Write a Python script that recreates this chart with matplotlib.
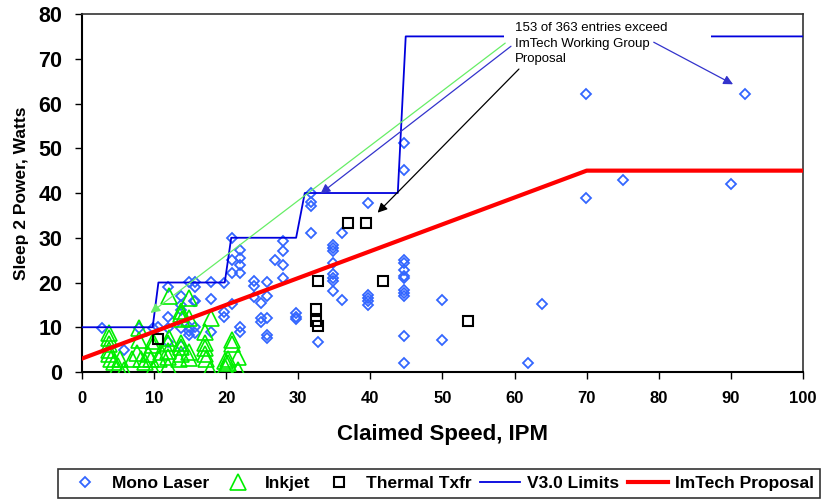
import numpy as np
import matplotlib.pyplot as plt
from matplotlib.patches import Rectangle

plt.rcParams['font.family'] = ['Liberation Sans', 'DejaVu Sans']

# Mono Laser (claimed IPM, sleep 2 watts)
mono_x = [2.8, 5.8, 7.9, 9.8, 10.5,
          11.9, 11.9, 11.9, 11.9,
          13.8, 13.8, 13.8, 13.8, 13.8,
          14.8, 14.8, 14.8, 14.8,
          15.7, 15.7, 15.7, 15.7, 15.7, 15.5,
          17.9, 17.9, 17.9,
          19.7, 19.7, 19.7,
          20.8, 20.8, 20.8, 20.8,
          21.9, 21.9, 21.9, 21.9, 21.9, 21.9,
          23.8, 23.8, 23.8,
          24.8, 24.8, 24.8,
          25.7, 25.7, 25.7, 25.7, 25.7,
          26.8,
          27.9, 27.9, 27.9, 27.9,
          29.7, 29.7, 29.7,
          31.8, 31.8, 31.8, 31.8,
          32.8,
          34.8, 34.8, 34.8, 34.8, 34.8, 34.8, 34.8, 34.8,
          36.0, 36.0,
          39.6, 39.6, 39.6, 39.6, 39.6,
          44.7, 44.7, 44.7, 44.7, 44.7, 44.7, 44.7, 44.7, 44.7, 44.7, 44.7, 44.7,
          50.0, 50.0, 61.9, 63.8, 69.9, 69.9, 75.0, 90.0, 91.9]
mono_y = [9.9, 4.9, 9.8, 9.9, 10.0,
          19.1, 12.3, 9.8, 6.6,
          16.9, 15.0, 13.9, 9.8, 5.7,
          20.2, 10.1, 9.2, 8.3,
          20.2, 19.0, 15.8, 10.0, 8.7, 15.8,
          20.2, 16.3, 9.0,
          19.9, 13.3, 12.2,
          30.0, 25.1, 22.1, 15.2,
          27.3, 25.5, 24.0, 22.1, 10.1, 9.0,
          20.4, 19.3, 16.8,
          15.5, 12.0, 11.2,
          20.2, 17.0, 12.0, 8.3, 7.5,
          25.1,
          29.2, 27.0, 24.0, 21.0,
          13.1, 12.4, 11.8,
          40.0, 37.9, 37.2, 31.1,
          6.8,
          28.4, 27.6, 27.0, 24.4, 22.0, 21.0, 20.4, 18.0,
          31.1, 16.1,
          37.8, 17.3, 16.5, 15.8, 15.0,
          51.1, 45.2, 25.1, 24.4, 22.9, 21.4, 21.0, 18.4, 17.6, 16.9, 8.1, 1.9,
          16.1, 7.1, 1.9, 15.2, 62.2, 38.9, 43.0, 42.1, 62.2]

# Inkjet
ink_x = [3.7, 3.7, 3.7, 3.7, 3.7, 4.0, 4.5, 5.0, 5.8, 5.3,
         7.9, 7.9, 7.6, 7.0, 8.2, 8.8, 9.2,
         9.8, 9.8, 9.6, 9.8, 10.7, 10.9,
         12.0, 12.0, 11.9, 11.9, 11.9, 11.9,
         13.8, 13.8, 13.9, 13.8, 13.8, 13.8, 13.5,
         14.8, 14.8, 14.8, 14.8,
         17.1, 17.0, 17.0, 17.0, 17.2, 17.9, 17.8,
         19.8, 20.2, 20.2, 19.8, 20.8, 20.8, 21.7, 21.7]
ink_y = [8.7, 7.5, 6.3, 5.0, 4.0, 2.8, 2.2, 1.4, 0.5, 3.0,
         9.8, 7.2, 4.2, 3.0, 3.0, 2.2, 4.0,
         7.0, 6.0, 2.8, 0.6, 3.0, 4.5,
         16.9, 7.7, 6.5, 4.8, 3.3, 1.4,
         13.7, 12.9, 11.8, 6.4, 5.5, 4.0, 3.0,
         16.6, 12.0, 4.4, 3.2,
         9.0, 6.5, 5.4, 4.0, 3.0, 12.0, 0.4,
         2.5, 3.0, 2.0, 1.1, 7.2, 6.2, 3.4, 0.4]

# Thermal Txfr
therm_x = [10.6, 32.4, 32.4, 32.7, 32.7, 36.9, 39.4, 41.7, 53.5]
therm_y = [7.3, 14.1, 11.3, 10.2, 20.4, 33.3, 33.3, 20.4, 11.3]

# limit lines
v3_x = [0, 9.8, 10.6, 19.8, 20.7, 29.7, 30.9, 43.8, 44.9, 100]
v3_y = [10, 10, 20, 20, 30, 30, 40, 40, 75, 75]
imtech_x = [0, 70, 100]
imtech_y = [3, 45, 45]

note = "153 of 363 entries exceed\nImTech Working Group\nProposal"

fig = plt.figure(figsize=(8.24, 5.01), dpi=100)
ax = fig.add_axes([0.0995, 0.2575, 0.875, 0.7145])

ax.plot(mono_x, mono_y, ls='none', marker='D', ms=5.5, mfc='none',
        mec='#3366ff', mew=1.3, label='Mono Laser', zorder=3)
ax.plot(ink_x, ink_y, ls='none', marker='^', ms=11, mfc='none',
        mec='#00ee00', mew=1.2, label='Inkjet', zorder=3)
ax.plot(therm_x, therm_y, ls='none', marker='s', ms=6.5, mfc='none',
        mec='black', mew=1.5, label='Thermal Txfr', zorder=3)
ax.plot(v3_x, v3_y, color='#0000dd', lw=1.3, label='V3.0 Limits', zorder=4)
ax.plot(imtech_x, imtech_y, color='#ff0000', lw=3, label='ImTech Proposal', zorder=5)

# white box behind the note
ax.add_patch(Rectangle((58.6, 68.5), 28.7, 11.2, facecolor='white',
                       edgecolor='none', zorder=6))
ax.text(60.0, 78.2, note, fontsize=9.5, va='top', ha='left',
        linespacing=1.4, zorder=7)

arrows = [((58.7, 73.5), (9.5, 13.2), '#66ee66'),
          ((59.5, 72.8), (33.1, 39.9), '#3333cc'),
          ((60.6, 67.7), (41.0, 35.6), 'black'),
          ((79.3, 73.7), (90.3, 64.3), '#3333cc')]
for start, end, col in arrows:
    ax.annotate('', xy=end, xytext=start, zorder=8,
                arrowprops=dict(arrowstyle='-|>', color=col, lw=0.9,
                                mutation_scale=14, shrinkA=0, shrinkB=0))

ax.set_xlim(0, 100)
ax.set_ylim(0, 80)
ax.set_xticks(np.arange(0, 101, 10))
ax.set_yticks(np.arange(0, 81, 10))
ax.tick_params(axis='y', labelsize=15.5, length=5, width=1, direction='out', pad=9)
ax.tick_params(axis='x', labelsize=12, length=5, width=1, direction='out', pad=9)
for lab in ax.get_xticklabels() + ax.get_yticklabels():
    lab.set_fontweight('bold')
ax.set_xlabel('Claimed Speed, IPM', fontsize=16, fontweight='bold', labelpad=13)
ax.set_ylabel('Sleep 2 Power, Watts', fontsize=12.5, fontweight='bold', labelpad=7)

for s in ['left', 'bottom']:
    ax.spines[s].set_linewidth(1.5)
for s in ['top', 'right']:
    ax.spines[s].set_linewidth(1.2)
    ax.spines[s].set_color('#333333')

leg = fig.legend(loc='lower left', bbox_to_anchor=(58 / 824, 0.006), ncol=5,
                 frameon=True, fancybox=False, edgecolor='black',
                 prop={'weight': 'bold', 'size': 12.5}, handlelength=2.3,
                 columnspacing=0.5, handletextpad=0.4, borderpad=0.4,
                 borderaxespad=0)
leg.get_frame().set_linewidth(1.2)

fig.savefig('out.png', dpi=100)
